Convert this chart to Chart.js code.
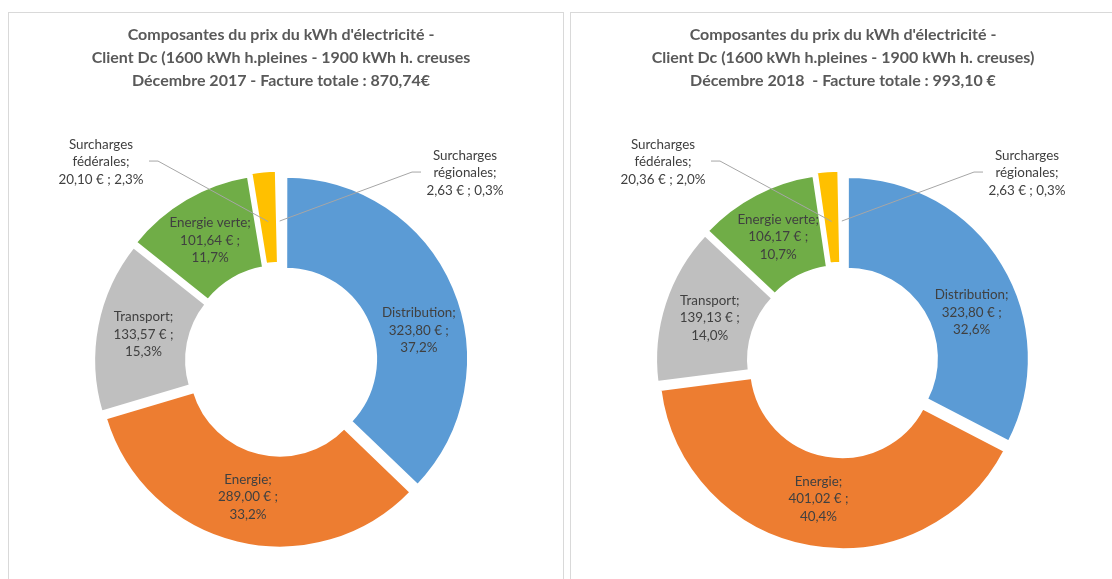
<!DOCTYPE html>
<html>
<head>
<meta charset="utf-8">
<script src="https://cdn.jsdelivr.net/npm/chart.js@4.4.1/dist/chart.umd.min.js"></script>
<style>
  html, body { margin: 0; padding: 0; background: #fff; overflow: hidden; }
  body { width: 1112px; height: 579px; position: relative; }
  .panel { position: absolute; top: 12px; width: 554px; height: 620px; border: 1px solid #d9d9d9; background: #fff; }
  #panel2017 { left: 8px; }
  #panel2018 { left: 570px; }
  canvas { display: block; }
</style>
</head>
<body>
<div class="panel" id="panel2017"><canvas id="chart2017" width="554" height="620"></canvas></div>
<div class="panel" id="panel2018"><canvas id="chart2018" width="554" height="620"></canvas></div>
<script>
// slices, clockwise from 12 o'clock
const categories = ['Distribution', 'Energie', 'Transport', 'Energie verte', 'Surcharges\nfédérales', 'Surcharges\nrégionales'];
const sliceColors = ['#5b9bd5', '#ed7d31', '#bfbfbf', '#70ad47', '#ffc000', '#c5e0b4'];

const values2017 = [323.80, 289.00, 133.57, 101.64, 20.10, 2.63];
const pct2017 = [37.2, 33.2, 15.3, 11.7, 2.3, 0.3];
const title2017 = [
    "Composantes du prix du kWh d'électricité -",
    'Client Dc (1600 kWh h.pleines - 1900 kWh h. creuses',
    'Décembre 2017 - Facture totale : 870,74€'
];

const values2018 = [323.80, 401.02, 139.13, 106.17, 20.36, 2.63];
const pct2018 = [32.6, 40.4, 14.0, 10.7, 2.0, 0.3];
const title2018 = [
    "Composantes du prix du kWh d'électricité -",
    'Client Dc (1600 kWh h.pleines - 1900 kWh h. creuses)',
    'Décembre 2018  - Facture totale : 993,10 €'
];

const fmt = (v, d) => v.toFixed(d).replace('.', ',');

// data labels, inside the ring or as callouts with a leader line
const sliceLabels = {
    id: 'sliceLabels',
    afterDatasetsDraw(chart, args, opts) {
        const ctx = chart.ctx;
        const arcs = chart.getDatasetMeta(0).data;
        const values = chart.data.datasets[0].data;
        ctx.save();
        ctx.font = '13.4px Lato';
        ctx.fillStyle = '#404040';
        ctx.textAlign = 'center';
        ctx.textBaseline = 'middle';
        arcs.forEach((arc, i) => {
            const p = arc.getProps(['x', 'y', 'startAngle', 'endAngle', 'innerRadius', 'outerRadius'], true);
            const mid = (p.startAngle + p.endAngle) / 2;
            const r = (p.innerRadius + p.outerRadius) / 2 + arc.options.offset / 4;
            const px = p.x + Math.cos(mid) * r;
            const py = p.y + Math.sin(mid) * r;
            const valTxt = fmt(values[i], 2) + ' €';
            const pctTxt = fmt(opts.pcts[i], 1) + '%';
            const callout = opts.callouts[i];
            let lines, lx, ly;
            if (callout) {
                lines = chart.data.labels[i].split('\n');
                lines[lines.length - 1] += ';';
                lines.push(valTxt + ' ; ' + pctTxt);
                lx = p.x + callout.dx;
                ly = p.y + callout.dy;
                const sx = lx + callout.side * callout.gap;
                ctx.strokeStyle = '#a6a6a6';
                ctx.lineWidth = 1;
                ctx.beginPath();
                ctx.moveTo(sx, ly - 1);
                ctx.lineTo(sx + callout.side * 9, ly - 1);
                ctx.lineTo(px, py);
                ctx.stroke();
            } else {
                lines = [chart.data.labels[i] + ';', valTxt + ' ;', pctTxt];
                const n = opts.nudges[i] || [0, 0];
                lx = px + n[0];
                ly = py + n[1];
            }
            lines.forEach((t, k) => ctx.fillText(t, lx, ly + (k - (lines.length - 1) / 2) * 17.5));
        });
        ctx.restore();
    }
};

function makeDonut(id, titleLines, values, pcts) {
    const ctx = document.getElementById(id).getContext('2d');
    return new Chart(ctx, {
        type: 'doughnut',
        data: {
            labels: categories,
            datasets: [{
                data: values,
                backgroundColor: sliceColors,
                borderColor: '#ffffff',
                borderWidth: 3,
                offset: 20
            }]
        },
        options: {
            responsive: false,
            animation: false,
            devicePixelRatio: 1,
            radius: 181.5,
            cutout: '48.8%',
            layout: { padding: { left: 0, right: 10, top: 0, bottom: 13.5 } },
            plugins: {
                legend: { display: false },
                tooltip: { enabled: false },
                title: {
                    display: true,
                    text: titleLines,
                    color: '#595959',
                    font: { family: 'Lato', size: 16, weight: 'bold', lineHeight: 1.44 },
                    padding: { top: 10.5, bottom: 10 }
                },
                sliceLabels: {
                    pcts: pcts,
                    nudges: { 0: [9, 24] },
                    callouts: {
                        4: { dx: -180, dy: -199, side: 1, gap: 48 },
                        5: { dx: 184, dy: -188, side: -1, gap: 44 }
                    }
                }
            }
        },
        plugins: [sliceLabels]
    });
}

makeDonut('chart2017', title2017, values2017, pct2017);
makeDonut('chart2018', title2018, values2018, pct2018);
</script>
</body>
</html>
